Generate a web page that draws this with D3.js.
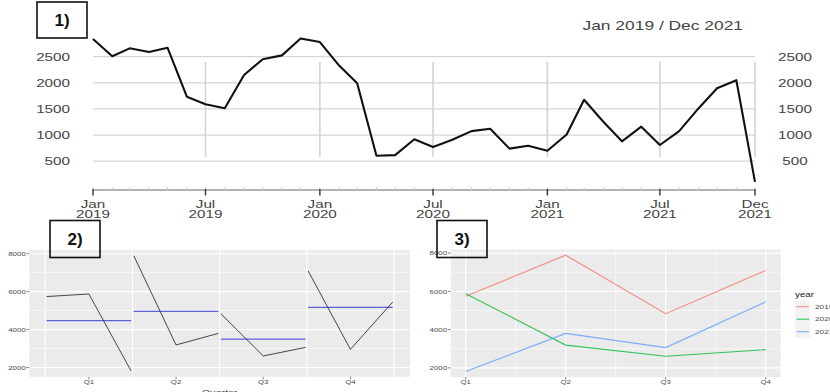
<!DOCTYPE html>
<html>
<head>
<meta charset="utf-8">
<script src="https://cdn.jsdelivr.net/npm/d3@7/dist/d3.min.js"></script>
<style>
  html, body { margin: 0; padding: 0; background: #fff; }
  svg { display: block; font-family: "Liberation Sans", Arial, sans-serif; }
</style>
</head>
<body>
<svg id="chart" width="830" height="392"></svg>
<script>
// ---- Monthly series, Jan 2019 .. Dec 2021 ----
const monthlyValues = [
  2840, 2510, 2660, 2590, 2670, 1735, 1590, 1515, 2150, 2450, 2525, 2850,
  2780, 2330, 1990, 605, 615, 920, 770, 910, 1075, 1120, 740, 795,
  700, 1010, 1675, 1255, 880, 1160, 810, 1075, 1510, 1895, 2050, 105
];
const periodTitle = "Jan 2019 / Dec 2021";
const monthlyTicks = [500, 1000, 1500, 2000, 2500];
const majorTickMonths = [0, 6, 12, 18, 24, 30, 35];
const majorTickLabels = [
  ["Jan", "2019"], ["Jul", "2019"], ["Jan", "2020"], ["Jul", "2020"],
  ["Jan", "2021"], ["Jul", "2021"], ["Dec", "2021"]
];

// ---- Quarterly totals by year ----
const quarters = ["Q1", "Q2", "Q3", "Q4"];
const years = ["2019", "2020", "2021"];
const q2019 = [5740, 7890, 4830, 7095];
const q2020 = [5875, 3190, 2610, 2955];
const q2021 = [1815, 3800, 3060, 5450];
const quarterTicks = [2000, 4000, 6000, 8000];
const quarterMinorTicks = [3000, 5000, 7000];
const yearColors = ["#F8766D", "#00BA38", "#619CFF"];

const svg = d3.select("#chart");
const SX = 1.45; // horizontal stretch applied to all chart text

function label(g, x, y, str, opt) {
  opt = opt || {};
  return g.append("text")
    .attr("transform", `translate(${x},${y}) scale(${opt.sx || SX},1)`)
    .attr("text-anchor", opt.anchor || "start")
    .attr("font-size", opt.size || 10.5)
    .attr("font-weight", opt.weight || "normal")
    .attr("fill", opt.fill || "#4d4d4d")
    .text(str);
}

// ================= Panel 1: monthly line =================
const months = d3.range(monthlyValues.length).map(i => new Date(2019, i, 1));
const x1 = d3.scaleTime().domain(d3.extent(months)).range([93, 755]);
const y1 = d3.scaleLinear().domain([0, 2500]).range([187.3, 56.7]);
const p1 = svg.append("g");

p1.selectAll("line.hgrid").data(monthlyTicks).join("line")
  .attr("x1", x1.range()[0]).attr("x2", x1.range()[1])
  .attr("y1", d => y1(d)).attr("y2", d => y1(d))
  .attr("stroke", "#d6d6d6").attr("stroke-width", 1.3);

p1.selectAll("line.vgrid").data(majorTickMonths.slice(1)).join("line")
  .attr("x1", d => x1(months[d])).attr("x2", d => x1(months[d]))
  .attr("y1", 62).attr("y2", 157)
  .attr("stroke", "#d3d3d3").attr("stroke-width", 1.6);

// axis line, minor (monthly) and major ticks
p1.append("line").attr("x1", x1.range()[0]).attr("x2", x1.range()[1])
  .attr("y1", 190).attr("y2", 190).attr("stroke", "#666").attr("stroke-width", 1);
p1.selectAll("line.minor").data(months).join("line")
  .attr("x1", d => x1(d)).attr("x2", d => x1(d))
  .attr("y1", 187).attr("y2", 190.5).attr("stroke", "#d0d0d0").attr("stroke-width", 1);
p1.selectAll("line.major").data(majorTickMonths).join("line")
  .attr("x1", d => x1(months[d])).attr("x2", d => x1(months[d]))
  .attr("y1", 189).attr("y2", 195.5).attr("stroke", "#333").attr("stroke-width", 1.4);

majorTickMonths.forEach((m, i) => {
  label(p1, x1(months[m]), 207.5, majorTickLabels[i][0], { anchor: "middle", fill: "#444" });
  label(p1, x1(months[m]), 218, majorTickLabels[i][1], { anchor: "middle", fill: "#444" });
});

monthlyTicks.forEach(v => {
  label(p1, 70, y1(v) + 3.8, String(v), { anchor: "end", fill: "#444" });
  label(p1, 795, y1(v) + 3.8, String(v), { anchor: "middle", fill: "#444" });
});

label(p1, 743, 29.5, periodTitle, { anchor: "end", size: 12, fill: "#444" });

p1.append("path").datum(monthlyValues)
  .attr("fill", "none").attr("stroke", "#111").attr("stroke-width", 2.1)
  .attr("stroke-linejoin", "round")
  .attr("d", d3.line().x((d, i) => x1(months[i])).y(d => y1(d)));

// ================= shared quarterly scales =================
const series = [q2019, q2020, q2021];
const allQ = series.flat();
const qExt = d3.extent(allQ);
const qPad = (qExt[1] - qExt[0]) * 0.05;
const yDomain = [qExt[0] - qPad, qExt[1] + qPad];

function panelFrame(g, x, y, xTicks, xTickLabels, vGrid, vMinor) {
  const [xa, xb] = x.range();
  const [ya, yb] = y.range();
  g.append("rect").attr("x", xa).attr("y", yb).attr("width", xb - xa).attr("height", ya - yb)
    .attr("fill", "#ebebeb");
  g.selectAll("line.hmin").data(quarterMinorTicks).join("line")
    .attr("x1", xa).attr("x2", xb).attr("y1", d => y(d)).attr("y2", d => y(d))
    .attr("stroke", "#fff").attr("stroke-width", 0.6);
  g.selectAll("line.vmin").data(vMinor).join("line")
    .attr("x1", d => x(d)).attr("x2", d => x(d)).attr("y1", ya).attr("y2", yb)
    .attr("stroke", "#fff").attr("stroke-width", 0.6);
  g.selectAll("line.hmaj").data(quarterTicks).join("line")
    .attr("x1", xa).attr("x2", xb).attr("y1", d => y(d)).attr("y2", d => y(d))
    .attr("stroke", "#fff").attr("stroke-width", 1.1);
  g.selectAll("line.vmaj").data(vGrid).join("line")
    .attr("x1", d => x(d)).attr("x2", d => x(d)).attr("y1", ya).attr("y2", yb)
    .attr("stroke", "#fff").attr("stroke-width", 1.1);
  // y axis ticks + labels
  g.selectAll("line.yt").data(quarterTicks).join("line")
    .attr("x1", xa - 2.7).attr("x2", xa).attr("y1", d => y(d)).attr("y2", d => y(d))
    .attr("stroke", "#333").attr("stroke-width", 0.6);
  quarterTicks.forEach(v => label(g, xa - 3.5, y(v) + 2.2, String(v),
    { anchor: "end", size: 5.6, sx: 1.42 }));
  // x axis ticks + labels
  g.selectAll("line.xt").data(xTicks).join("line")
    .attr("x1", d => x(d)).attr("x2", d => x(d)).attr("y1", ya).attr("y2", ya + 2.5)
    .attr("stroke", "#333").attr("stroke-width", 0.6);
  xTicks.forEach((t, i) => label(g, x(t), ya + 6.8, xTickLabels[i],
    { anchor: "middle", size: 5.8, sx: 1.35 }));
}

// ================= Panel 2: subseries by quarter =================
const span = 0.485;
const subX = (qi, yi) => (qi + 1) - span + (2 * span) * yi / (years.length - 1);
const xs2 = [subX(0, 0), subX(quarters.length - 1, years.length - 1)];
const xPad2 = (xs2[1] - xs2[0]) * 0.05;
const x2 = d3.scaleLinear().domain([xs2[0] - xPad2, xs2[1] + xPad2]).range([29.3, 410]);
const y2 = d3.scaleLinear().domain(yDomain).range([376.8, 250]);
const p2 = svg.append("g");
const qCenters = quarters.map((q, i) => i + 1);
panelFrame(p2, x2, y2, qCenters, quarters, d3.range(0.5, quarters.length + 1, 1), []);

quarters.forEach((q, qi) => {
  const vals = series.map(s => s[qi]);
  const mean = d3.mean(vals);
  p2.append("line")
    .attr("x1", x2(subX(qi, 0))).attr("x2", x2(subX(qi, years.length - 1)))
    .attr("y1", y2(mean)).attr("y2", y2(mean))
    .attr("stroke", "#4747d6").attr("stroke-width", 1.3).attr("stroke-opacity", 0.85);
  p2.append("path").datum(vals)
    .attr("fill", "none").attr("stroke", "#333").attr("stroke-width", 0.9)
    .attr("d", d3.line().x((d, yi) => x2(subX(qi, yi))).y(d => y2(d)));
});
label(p2, (x2.range()[0] + x2.range()[1]) / 2, 395, "Quarter",
  { anchor: "middle", size: 7.2, fill: "#333" });

// ================= Panel 3: seasonal lines by year =================
const x3 = d3.scaleLinear().domain([0.85, 4.15]).range([450.7, 780.7]);
const y3 = d3.scaleLinear().domain(yDomain).range([377.2, 249.4]);
const p3 = svg.append("g");
panelFrame(p3, x3, y3, qCenters, quarters, qCenters, [1.5, 2.5, 3.5]);

series.forEach((s, si) => {
  p3.append("path").datum(s)
    .attr("fill", "none").attr("stroke", yearColors[si]).attr("stroke-width", 1.1)
    .attr("stroke-opacity", 0.8)
    .attr("d", d3.line().x((d, i) => x3(qCenters[i])).y(d => y3(d)));
});

// legend
const lg = svg.append("g");
label(lg, 795, 296.5, "year", { size: 7, fill: "#222", sx: 1.4 });
years.forEach((yr, i) => {
  const cy = 306.7 + i * 12.5;
  lg.append("rect").attr("x", 795).attr("y", cy - 6.2).attr("width", 15).attr("height", 12.4)
    .attr("fill", "#f2f2f2");
  lg.append("line").attr("x1", 796.7).attr("x2", 809).attr("y1", cy).attr("y2", cy)
    .attr("stroke", yearColors[i]).attr("stroke-width", 1.1).attr("stroke-opacity", 0.8);
  label(lg, 815, cy + 2.2, yr, { size: 5.8, fill: "#4d4d4d", sx: 1.42 });
});

// ================= numbered boxes =================
const boxes = [
  { text: "1)", x: 37, y: 2, w: 50, h: 36 },
  { text: "2)", x: 50, y: 220.5, w: 50, h: 37 },
  { text: "3)", x: 437, y: 220.5, w: 50, h: 37 }
];
boxes.forEach(b => {
  svg.append("rect").attr("x", b.x).attr("y", b.y).attr("width", b.w).attr("height", b.h)
    .attr("fill", "none").attr("stroke", "#111").attr("stroke-width", 1.6);
  svg.append("text").attr("x", b.x + b.w / 2).attr("y", b.y + b.h / 2 + 6)
    .attr("text-anchor", "middle").attr("font-size", 17).attr("font-weight", "bold")
    .attr("fill", "#111").text(b.text);
});
</script>
</body>
</html>
